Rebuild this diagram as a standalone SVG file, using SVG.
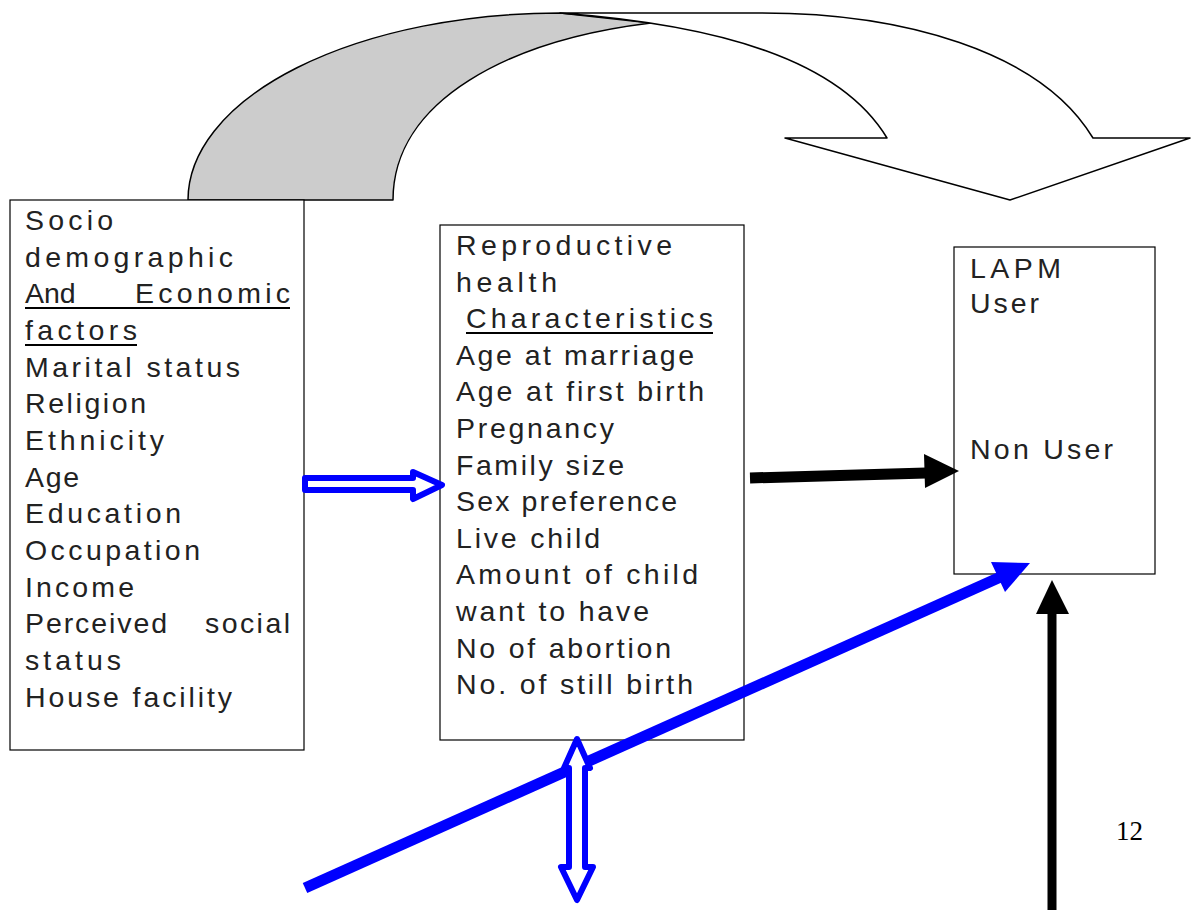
<svg xmlns="http://www.w3.org/2000/svg" width="1193" height="910" viewBox="0 0 1193 910">
<style>
.box{fill:#fff;stroke:#000;stroke-width:1.2}
.t{font-family:"Liberation Sans",Arial,sans-serif;font-size:28.5px;fill:#222}
.ul{stroke:#000;stroke-width:2}
.blueH{fill:#fff;stroke:#0000ff;stroke-width:6;stroke-linejoin:round}
</style>
<rect width="1193" height="910" fill="#fff"/>
<g id="curved-arrow">
<path d="M188,200 A372,187 0 0 1 560,13 L651,23 C510,40 393,100 393,200 Z" fill="#cccccc" stroke="#000" stroke-width="1.5" stroke-linejoin="round"/>
<path d="M560,13 L762,13 C900,13 1040,50 1093,138 L1190,138 L1010,200 L785,138 L887,138 C840,60 720,25 560,13 Z" fill="#fff" stroke="#000" stroke-width="1.5" stroke-linejoin="round"/>
</g>
<g id="node-socio">
<rect class="box" x="10" y="200" width="294" height="550"/>
<text class="t" x="25" y="230" textLength="88" lengthAdjust="spacing">Socio</text>
<text class="t" x="25" y="267" textLength="208" lengthAdjust="spacing">demographic</text>
<text class="t" x="25" y="303">And</text>
<text class="t" x="290" y="303" text-anchor="end" textLength="155" lengthAdjust="spacing">Economic</text>
<line class="ul" x1="25" y1="308" x2="290" y2="308"/>
<text class="t" x="25" y="340" textLength="112" lengthAdjust="spacing">factors</text>
<line class="ul" x1="25" y1="345" x2="137" y2="345"/>
<text class="t" x="25" y="377" textLength="215" lengthAdjust="spacing">Marital status</text>
<text class="t" x="25" y="413" textLength="121" lengthAdjust="spacing">Religion</text>
<text class="t" x="25" y="450" textLength="139" lengthAdjust="spacing">Ethnicity</text>
<text class="t" x="25" y="487" textLength="54" lengthAdjust="spacing">Age</text>
<text class="t" x="25" y="523" textLength="156" lengthAdjust="spacing">Education</text>
<text class="t" x="25" y="560" textLength="175" lengthAdjust="spacing">Occupation</text>
<text class="t" x="25" y="597" textLength="109" lengthAdjust="spacing">Income</text>
<text class="t" x="25" y="633" textLength="142" lengthAdjust="spacing">Perceived</text>
<text class="t" x="290" y="633" text-anchor="end" textLength="85" lengthAdjust="spacing">social</text>
<text class="t" x="25" y="670" textLength="96" lengthAdjust="spacing">status</text>
<text class="t" x="25" y="707" textLength="207" lengthAdjust="spacing">House facility</text>
</g>
<g id="node-reproductive">
<rect class="box" x="440" y="225" width="304" height="515"/>
<text class="t" x="456" y="255" textLength="216" lengthAdjust="spacing">Reproductive</text>
<text class="t" x="456" y="292" textLength="101" lengthAdjust="spacing">health</text>
<text class="t" x="466" y="328" textLength="247" lengthAdjust="spacing">Characteristics</text>
<line class="ul" x1="466" y1="333" x2="713" y2="333"/>
<text class="t" x="456" y="365" textLength="238" lengthAdjust="spacing">Age at marriage</text>
<text class="t" x="456" y="401" textLength="248" lengthAdjust="spacing">Age at first birth</text>
<text class="t" x="456" y="438" textLength="158" lengthAdjust="spacing">Pregnancy</text>
<text class="t" x="456" y="475" textLength="168" lengthAdjust="spacing">Family size</text>
<text class="t" x="456" y="511" textLength="221" lengthAdjust="spacing">Sex preference</text>
<text class="t" x="456" y="548" textLength="144" lengthAdjust="spacing">Live child</text>
<text class="t" x="456" y="584" textLength="242" lengthAdjust="spacing">Amount of child</text>
<text class="t" x="456" y="621" textLength="193" lengthAdjust="spacing">want to have</text>
<text class="t" x="456" y="658" textLength="215" lengthAdjust="spacing">No of abortion</text>
<text class="t" x="456" y="694" textLength="237" lengthAdjust="spacing">No. of still birth</text>
</g>
<g id="node-lapm">
<rect class="box" x="954" y="247" width="201" height="327"/>
<text class="t" x="970" y="278" textLength="91" lengthAdjust="spacing">LAPM</text>
<text class="t" x="970" y="313" textLength="69" lengthAdjust="spacing">User</text>
<text class="t" x="970" y="459" textLength="143" lengthAdjust="spacing">Non User</text>
</g>
<g id="connectors">
<polygon class="blueH" points="305,478 413,478 413,472 442,485 413,499 413,490 305,490"/>
<line x1="750" y1="478" x2="926" y2="473" stroke="#000" stroke-width="11"/>
<polygon points="924,454 959,471 925,488" fill="#000"/>
<line x1="1052" y1="910" x2="1052" y2="612" stroke="#000" stroke-width="9"/>
<polygon points="1036,614 1052,580 1069,614" fill="#000"/>
<line x1="305" y1="888" x2="1005" y2="575" stroke="#0000ff" stroke-width="11"/>
<polygon points="991,562 1030,563 1005,592" fill="#0000ff"/>
<polygon class="blueH" points="577,739 590,768 585,768 585,867 593,867 577,900 561,867 569,867 569,768 564,768"/>
</g>
<text x="1116" y="840" font-family="Liberation Serif,serif" font-size="27" fill="#000">12</text>
</svg>
